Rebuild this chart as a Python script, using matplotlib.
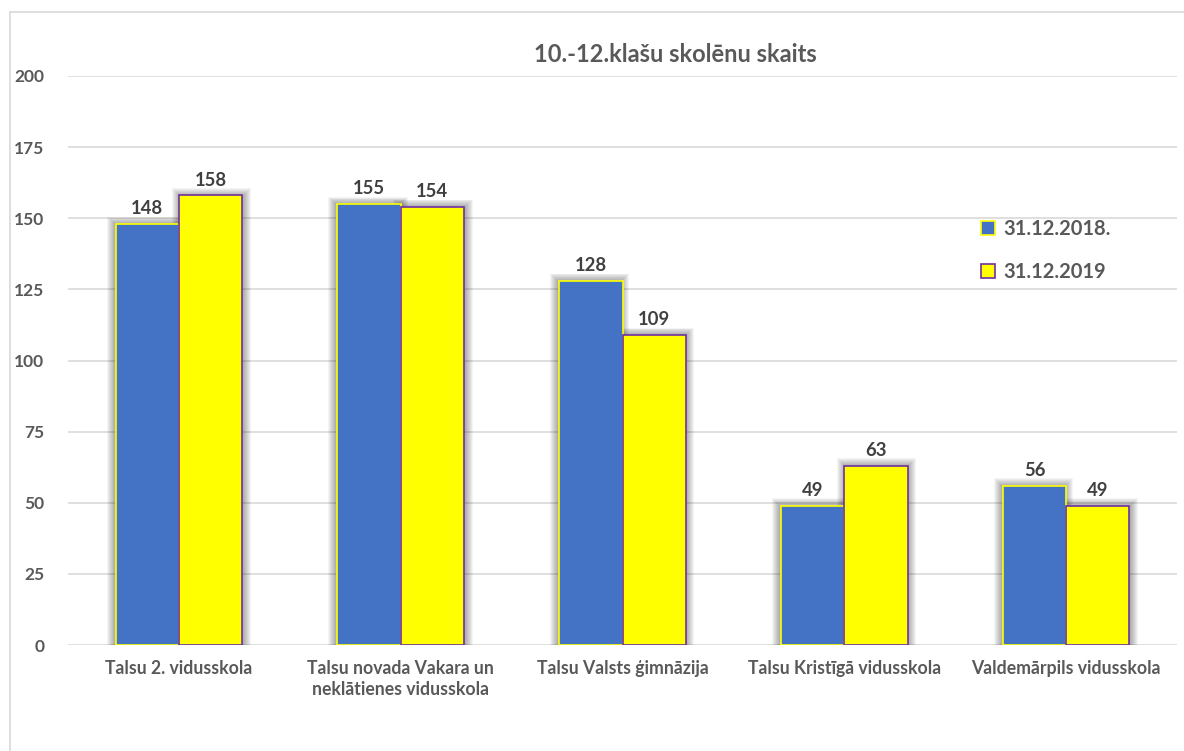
import matplotlib
matplotlib.use("Agg")
import matplotlib.pyplot as plt
from matplotlib.lines import Line2D
import numpy as np

categories = ["Talsu 2. vidusskola",
              "Talsu novada Vakara un\nneklātienes vidusskola",
              "Talsu Valsts ģimnāzija",
              "Talsu Kristīgā vidusskola",
              "Valdemārpils vidusskola"]
series_names = ["31.12.2018.", "31.12.2019"]
values_2018 = [148, 155, 128, 49, 56]
values_2019 = [158, 154, 109, 63, 49]
yticks = [0, 25, 50, 75, 100, 125, 150, 175, 200]
title = "10.-12.klašu skolēnu skaits"

plt.rcParams['font.family'] = ['Lato', 'DejaVu Sans']
W, H = 1184, 751
fig = plt.figure(figsize=(W / 100, H / 100), dpi=100)
ax = fig.add_axes([68 / W, 1 - 645 / H, (1177 - 68) / W, (645 - 76) / H])

text_col = "#595959"
grid_col = "#D9D9D9"
blue = "#4472C4"
yellow = "#FFFF00"
purple = "#7030A0"

x = np.arange(len(categories))
bw = 0.285

# soft shadow/glow behind bars
for i, (v1, v2) in enumerate(zip(values_2018, values_2019)):
    for k in range(1, 9):
        pad_x = 0.0045 * k
        pad_y = 0.32 * k
        left = x[i] - bw - pad_x - 0.005
        ax.bar(left, v1 + pad_y, width=bw + 2 * pad_x, bottom=0, align='edge',
               color="#000000", alpha=0.045, linewidth=0, zorder=1)
        ax.bar(x[i] - pad_x + 0.003, v2 + pad_y, width=bw + 2 * pad_x, bottom=0, align='edge',
               color="#000000", alpha=0.045, linewidth=0, zorder=1)

b1 = ax.bar(x - bw / 2, values_2018, width=bw, color=blue, edgecolor=yellow,
            linewidth=1.2, zorder=3, label=series_names[0])
b2 = ax.bar(x + bw / 2, values_2019, width=bw, color=yellow, edgecolor=purple,
            linewidth=1.2, zorder=3, label=series_names[1])

for bars, vals in ((b1, values_2018), (b2, values_2019)):
    for rect, v in zip(bars, vals):
        ax.annotate(str(v), (rect.get_x() + rect.get_width() / 2, v),
                    xytext=(0, 5), textcoords='offset points',
                    ha='center', va='bottom', fontsize=13.3, fontweight='bold',
                    color="#404040", zorder=5)

ax.set_xlim(-0.5, len(categories) - 0.5)
ax.set_ylim(0, 200)
ax.set_yticks(yticks)
ax.set_yticklabels([str(t) for t in yticks])
ax.set_xticks(x)
ax.set_xticklabels(categories, linespacing=1.3)
ax.tick_params(axis='both', length=0, labelsize=12.7, labelcolor=text_col)
ax.tick_params(axis='y', labelsize=12.5)
for lab in ax.get_xticklabels() + ax.get_yticklabels():
    lab.set_fontweight('bold')
ax.tick_params(axis='y', pad=17)
ax.tick_params(axis='x', pad=11)
ax.grid(axis='y', color=grid_col, linewidth=1.2, zorder=0)
ax.set_axisbelow(True)
for s in ax.spines.values():
    s.set_visible(False)

leg = ax.legend(handles=[b1, b2], loc='upper left',
                bbox_to_anchor=((981 - 68) / (1177 - 68), (645 - 219) / (645 - 76)),
                frameon=False, fontsize=14.5, labelspacing=1.15, handlelength=0.7,
                handleheight=0.7, handletextpad=0.4, borderaxespad=0, borderpad=0)
for t in leg.get_texts():
    t.set_color(text_col)
    t.set_fontweight('bold')

fig.text(675 / W, 1 - 55 / H, title, ha='center', va='center', fontsize=17,
         fontweight='bold', color=text_col)

fig.add_artist(Line2D([10 / W, 10 / W], [0, 1 - 12 / H], color=grid_col, linewidth=1.2, transform=fig.transFigure))
fig.add_artist(Line2D([10 / W, 1], [1 - 12 / H, 1 - 12 / H], color=grid_col, linewidth=1.2, transform=fig.transFigure))

fig.savefig("out.png", dpi=100, facecolor="white")
